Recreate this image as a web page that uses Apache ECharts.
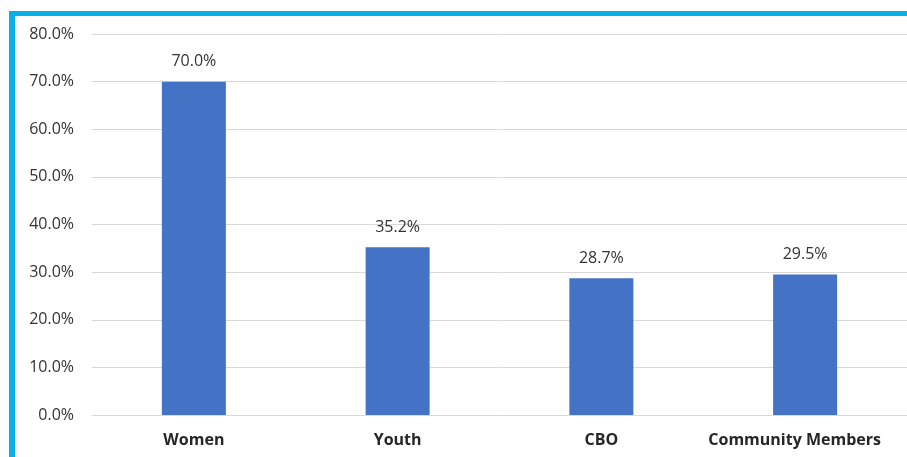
<!DOCTYPE html>
<html>
<head>
<meta charset="utf-8">
<script src="https://cdn.jsdelivr.net/npm/echarts@6/dist/echarts.min.js"></script>
<style>
  html, body { margin: 0; padding: 0; background: #fff; }
  #chart { width: 907px; height: 457px; }
</style>
</head>
<body>
<div id="chart"></div>
<script>
// Share of each participant group
const categories = ['Women', 'Youth', 'CBO', 'Community Members'];
const shares = [70.0, 35.2, 28.7, 29.5];
const yTicks = { min: 0, max: 80, interval: 10 };

const chart = echarts.init(document.getElementById('chart'), null, { renderer: 'canvas' });

const fontFamily = '"Open Sans", "Liberation Sans", sans-serif';

// The last category label is nudged left so it stays clear of the right edge
const categoryData = categories.map((name, i) =>
  i === categories.length - 1
    ? { value: name, textStyle: { padding: [0, 21, 0, 0] } }
    : name
);

chart.setOption({
  animation: false,
  backgroundColor: '#ffffff',
  // Frame around the chart area
  graphic: [
    { type: 'rect', shape: { x: 9, y: 11, width: 6, height: 460 }, style: { fill: '#08B0E8' }, z: 10 },
    { type: 'rect', shape: { x: 9, y: 11, width: 910, height: 5 }, style: { fill: '#08B0E8' }, z: 10 }
  ],
  grid: { left: 92, right: -1, top: 34, bottom: 42, containLabel: false },
  xAxis: {
    type: 'category',
    data: categoryData,
    axisLine: { show: true, lineStyle: { color: '#D9D9D9', width: 1 } },
    axisTick: { show: false },
    axisLabel: {
      interval: 0,
      margin: 17,
      color: '#262626',
      fontFamily: fontFamily,
      fontWeight: 'bold',
      fontSize: 16
    }
  },
  yAxis: {
    type: 'value',
    min: yTicks.min,
    max: yTicks.max,
    interval: yTicks.interval,
    axisLine: { show: false },
    axisTick: { show: false },
    splitLine: { lineStyle: { color: '#D9D9D9', width: 1 } },
    axisLabel: {
      margin: 18,
      color: '#333333',
      fontFamily: fontFamily,
      fontSize: 16,
      formatter: v => v.toFixed(1) + '%'
    }
  },
  series: [{
    type: 'bar',
    data: shares,
    barWidth: 64,
    itemStyle: { color: '#4472C4' },
    label: {
      show: true,
      position: 'top',
      distance: 12,
      color: '#333333',
      fontFamily: fontFamily,
      fontSize: 16,
      formatter: p => p.value.toFixed(1) + '%'
    }
  }]
});
</script>
</body>
</html>
